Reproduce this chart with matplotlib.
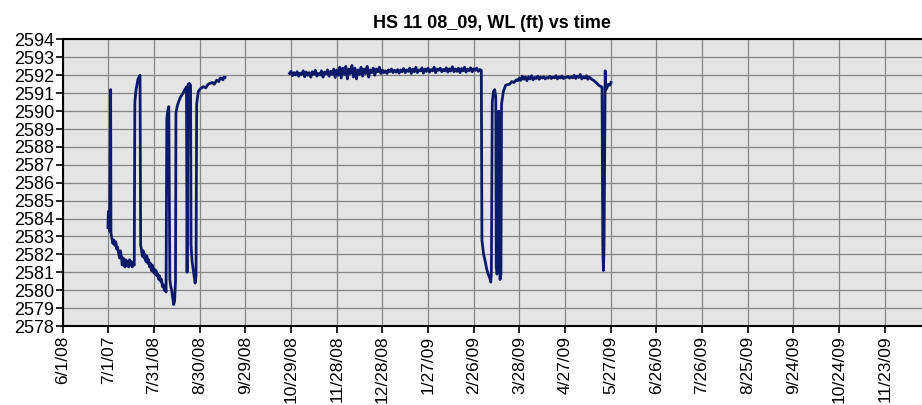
import numpy as np               # numeric arrays
import matplotlib
matplotlib.use("Agg")
import matplotlib.pyplot as plt  # plotting


# =========================================================================================
# Data: days counted from 6/1/08, water level (ft)
# =========================================================================================
tick_labels = ["6/1/08", "7/1/07", "7/31/08", "8/30/08", "9/29/08", "10/29/08",
               "11/28/08", "12/28/08", "1/27/09", "2/26/09", "3/28/09", "4/27/09",
               "5/27/09", "6/26/09", "7/26/09", "8/25/09", "9/24/09", "10/24/09",
               "11/23/09"]

# first record, summer 2008
days_1 = [29.7, 30.0, 30.3, 30.8, 31.5, 31.7, 32.3, 33.0, 33.6, 34.2, 34.9, 35.5, 36.1,
          36.7, 37.3, 37.9, 38.5, 39.1, 39.7, 40.3, 40.9, 41.5, 42.1, 42.7, 43.3, 43.9,
          44.5, 45.1, 45.7, 46.4, 47.0, 47.4, 48.2, 49.5, 50.8, 51.2, 51.7, 52.3, 52.9,
          53.5, 54.1, 54.7, 55.3, 55.9, 56.5, 57.1, 57.7, 58.3, 58.9, 59.5, 60.1, 60.7,
          61.3, 61.9, 62.5, 63.1, 63.7, 64.3, 64.9, 65.5, 66.1, 66.7, 67.3, 67.9, 68.4,
          69.0, 69.7, 70.4, 71.0, 71.6, 72.2, 72.9, 73.5, 74.1, 74.4, 75.3, 76.5, 77.5,
          79.0, 80.6, 81.3, 81.7, 82.4, 83.2, 84.0, 84.3, 85.0, 86.0, 87.0, 87.6, 88.0,
          89.1, 90.5, 92.4, 94.0, 95.5, 96.8, 98.3, 99.5, 101.2, 102.5, 103.5, 104.5,
          105.3, 106.0, 106.6]
level_1 = [2583.5, 2584.4, 2583.6, 2583.3, 2591.2, 2583.2, 2582.9, 2582.6, 2582.8, 2582.5,
           2582.7, 2582.3, 2582.4, 2582.1, 2581.8, 2582.2, 2581.9, 2581.4, 2581.8, 2581.5,
           2581.3, 2581.7, 2581.4, 2581.6, 2581.3, 2581.7, 2581.4, 2581.6, 2581.3, 2581.5,
           2581.4, 2590.5, 2591.2, 2591.8, 2592.0, 2582.5, 2582.3, 2581.9, 2582.2, 2581.8,
           2582.0, 2581.6, 2581.9, 2581.5, 2581.7, 2581.3, 2581.5, 2581.1, 2581.4, 2581.0,
           2581.2, 2580.9, 2581.1, 2580.8, 2580.9, 2580.6, 2580.8, 2580.5, 2580.6, 2580.2,
           2580.3, 2580.0, 2580.1, 2579.9, 2589.6, 2590.0, 2590.25, 2580.6, 2580.2, 2580.0,
           2579.6, 2579.2, 2579.4, 2580.5, 2589.9, 2590.3, 2590.6, 2590.8, 2591.0, 2591.25,
           2591.35, 2581.0, 2591.5, 2591.55, 2591.45, 2582.5, 2581.6, 2581.0, 2580.4, 2580.8,
           2590.4, 2591.1, 2591.25, 2591.37, 2591.3, 2591.5, 2591.55, 2591.6, 2591.5,
           2591.73, 2591.65, 2591.85, 2591.82, 2591.75, 2591.9, 2591.88]

# second record, 10/29/08 - 5/27/09
days_2 = list(range(149, 276)) + [
    275.4, 276.5, 277.6, 278.5, 279.5, 280.5, 281.2, 281.6, 282.2, 283.0, 283.8, 284.5,
    284.8, 285.3, 285.8, 286.4, 286.9, 287.3, 287.9, 288.3, 289.5, 291.0, 293.5, 295.0,
    296.5, 298.0] + list(range(299, 354)) + [
    354.3, 354.8, 355.2, 355.6, 356.4, 356.8, 357.5, 358.5, 359.5, 360.2]
level_2 = [
    2592.10, 2592.22, 2591.98, 2592.15, 2592.02, 2592.20, 2591.95, 2592.12, 2592.05, 2592.25,
    2591.92, 2592.18, 2592.00, 2592.15, 2591.90, 2592.20, 2592.05, 2592.28, 2591.95, 2592.10,
    2592.02, 2592.25, 2591.90, 2592.18, 2592.08, 2592.30, 2591.95, 2592.22, 2592.05, 2592.35,
    2591.88, 2592.30, 2592.00, 2592.45, 2591.85, 2592.40, 2592.05, 2592.50, 2591.80, 2592.35,
    2592.10, 2592.55, 2591.90, 2592.40, 2591.80, 2592.30, 2592.05, 2592.45, 2591.95, 2592.35,
    2592.10, 2592.50, 2591.90, 2592.30, 2592.15, 2592.40, 2592.00, 2592.35, 2592.20, 2592.45,
    2592.10, 2592.30, 2592.15, 2592.25, 2592.10, 2592.30, 2592.20, 2592.35, 2592.15, 2592.28,
    2592.18, 2592.32, 2592.12, 2592.30, 2592.20, 2592.38, 2592.15, 2592.30, 2592.22, 2592.40,
    2592.10, 2592.35, 2592.20, 2592.45, 2592.15, 2592.30, 2592.25, 2592.42, 2592.12, 2592.35,
    2592.22, 2592.40, 2592.18, 2592.32, 2592.25, 2592.45, 2592.15, 2592.35, 2592.28, 2592.40,
    2592.20, 2592.33, 2592.25, 2592.42, 2592.18, 2592.36, 2592.24, 2592.48, 2592.20, 2592.35,
    2592.22, 2592.40, 2592.15, 2592.38, 2592.25, 2592.45, 2592.18, 2592.34, 2592.26, 2592.42,
    2592.20, 2592.36, 2592.28, 2592.40, 2592.22, 2592.32, 2592.28,
    # drawdown in March 2009
    2582.8, 2582.0, 2581.6, 2581.2, 2580.9, 2580.7, 2580.45, 2581.0, 2590.5, 2591.1,
    2591.2, 2590.8, 2581.3, 2580.9, 2581.1, 2590.0, 2589.8, 2580.6, 2580.9, 2590.4,
    2591.1, 2591.45, 2591.5, 2591.65, 2591.6, 2591.75,
    # spring 2009
    2591.70, 2591.85, 2591.72, 2591.95, 2591.78, 2591.90, 2591.70, 2591.92, 2591.80, 2591.98,
    2591.75, 2591.88, 2591.82, 2591.95, 2591.78, 2591.90, 2591.85, 2591.92, 2591.80, 2591.88,
    2591.84, 2591.95, 2591.82, 2591.90, 2591.86, 2591.98, 2591.80, 2591.92, 2591.85, 2591.96,
    2591.82, 2591.90, 2591.88, 2591.95, 2591.84, 2591.92, 2591.86, 2592.00, 2591.82, 2591.95,
    2591.88, 2592.05, 2591.80, 2591.92, 2591.85, 2591.98, 2591.78, 2591.90, 2591.82, 2591.75,
    2591.70, 2591.62, 2591.55, 2591.45, 2591.40,
    # last drop in May 2009
    2591.35, 2582.5, 2581.1, 2582.3, 2592.25, 2591.2, 2591.3, 2591.5, 2591.45, 2591.6]

# =========================================================================================
# Draw the chart
# =========================================================================================
plt.rcParams["font.family"] = ["Liberation Sans", "DejaVu Sans"]

fig = plt.figure(figsize=(9.22, 4.05), dpi=100)
ax = fig.add_axes([0.068, 0.195, 0.932, 0.7075])
ax.set_facecolor("#e4e4e4")

line_color = "#0c1a6a"
ax.plot(days_1, level_1, color=line_color, lw=2.0)
ax.plot(days_2, level_2, color=line_color, lw=2.0)

ax.set_xlim(0, 564.5)
ax.set_ylim(2578, 2594)
ax.set_xticks(np.arange(len(tick_labels)) * 30)
ax.set_xticklabels(tick_labels, rotation=90, fontsize=12.5)
ax.set_yticks(np.arange(2578, 2595, 1))
ax.tick_params(axis="y", labelsize=13, length=5, width=1.2, pad=1)
ax.tick_params(axis="x", length=5, width=1.2, pad=2)

ax.grid(True, color="#858585", lw=0.9)
ax.set_axisbelow(True)
for side in ["left", "bottom", "top"]:
    ax.spines[side].set_color("black")
    ax.spines[side].set_linewidth(1.5)
ax.spines["right"].set_visible(False)

ax.set_title("HS 11 08_09, WL (ft) vs time", fontsize=13, fontweight="bold", pad=8)

fig.savefig("out.png", dpi=100)
